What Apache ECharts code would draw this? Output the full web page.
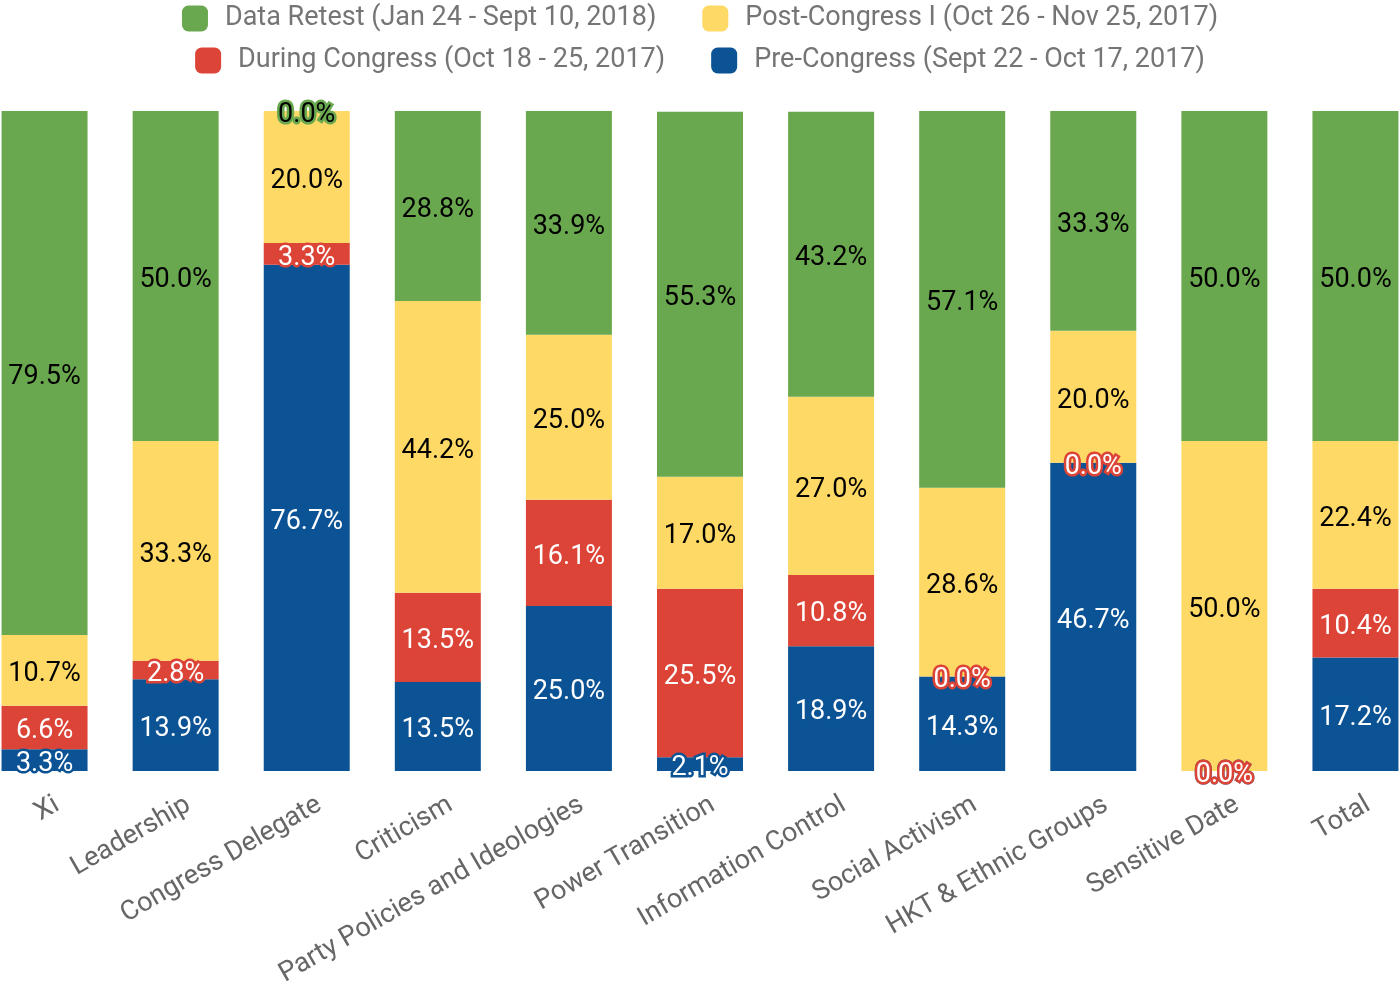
<!DOCTYPE html>
<html>
<head>
<meta charset="utf-8">
<script src="https://cdn.jsdelivr.net/npm/echarts@6/dist/echarts.min.js"></script>
<style>
html,body{margin:0;padding:0;background:#fff;overflow:hidden;width:1400px;height:986px;}
#chart{position:absolute;left:-21px;top:0;width:1442px;height:986px;}
</style>
</head>
<body>
<div id="chart"></div>
<script>
const categories = ['Xi', 'Leadership', 'Congress Delegate', 'Criticism', 'Party Policies and Ideologies', 'Power Transition', 'Information Control', 'Social Activism', 'HKT & Ethnic Groups', 'Sensitive Date', 'Total'];
const seriesNames = ['Pre-Congress (Sept 22 - Oct 17, 2017)', 'During Congress (Oct 18 - 25, 2017)', 'Post-Congress I (Oct 26 - Nov 25, 2017)', 'Data Retest (Jan 24 - Sept 10, 2018)'];
const preCongress = [3.3, 13.9, 76.7, 13.5, 25.0, 2.1, 18.9, 14.3, 46.7, 0.0, 17.2];
const duringCongress = [6.6, 2.8, 3.3, 13.5, 16.1, 25.5, 10.8, 0.0, 0.0, 0.0, 10.4];
const postCongress = [10.7, 33.3, 20.0, 44.2, 25.0, 17.0, 27.0, 28.6, 20.0, 50.0, 22.4];
const dataRetest = [79.5, 50.0, 0.0, 28.8, 33.9, 55.3, 43.2, 57.1, 33.3, 50.0, 50.0];

const colors = ['#0b5394', '#dc4437', '#ffd966', '#6aa84f'];
const labelColors = ['#ffffff', '#ffffff', '#000000', '#000000'];
const values = [preCongress, duringCongress, postCongress, dataRetest];

const chart = echarts.init(document.getElementById('chart'));
const series = values.map((v, i) => ({
  name: seriesNames[i],
  type: 'bar',
  stack: 'total',
  data: v,
  barWidth: 86,
  itemStyle: { color: colors[i] },
  label: {
    show: true,
    position: 'inside',
    offset: [0, 4],
    formatter: p => p.value.toFixed(1) + '%',
    fontFamily: 'Roboto',
    fontSize: 27,
    color: labelColors[i],
    textBorderColor: colors[i],
    textBorderWidth: 5
  },
  emphasis: { disabled: true }
}));

const legendText = { fontFamily: 'Roboto', fontSize: 27, color: '#757575', padding: [0, 0, 0, 12] };
chart.setOption({
  animation: false,
  textStyle: { fontFamily: 'Roboto' },
  legend: [
    { data: [seriesNames[3], seriesNames[2]], top: 0, left: 'center', icon: 'roundRect', itemWidth: 26, itemHeight: 26, itemGap: 46, textStyle: legendText },
    { data: [seriesNames[1], seriesNames[0]], top: 42, left: 'center', icon: 'roundRect', itemWidth: 26, itemHeight: 26, itemGap: 46, textStyle: legendText }
  ],
  grid: { left: 0, right: 0, top: 111, bottom: 215, containLabel: false, outerBoundsMode: 'none' },
  xAxis: {
    type: 'category',
    data: categories,
    axisLine: { show: false },
    axisTick: { show: false },
    axisLabel: {
      rotate: 30, interval: 0, fontFamily: 'Roboto', fontSize: 27, color: '#666666',
      margin: 10, align: 'right', verticalAlign: 'top', padding: [12, 0, 0, 0]
    }
  },
  yAxis: {
    type: 'value',
    min: 0,
    max: 100,
    show: false,
    splitLine: { show: false }
  },
  series: series
});
</script>
</body>
</html>
